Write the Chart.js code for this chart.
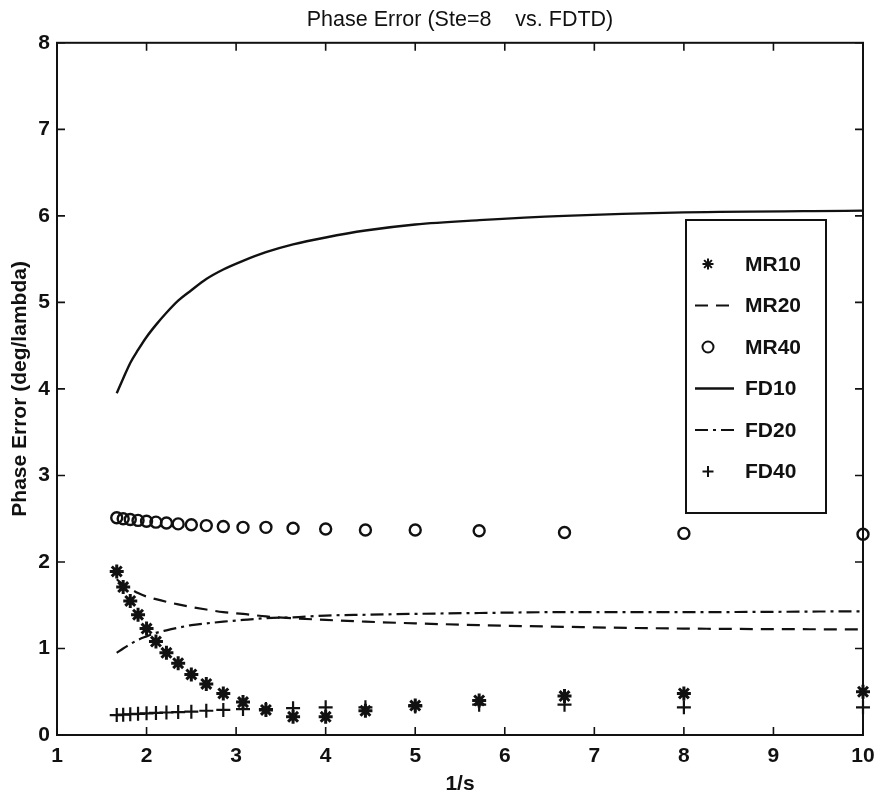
<!DOCTYPE html>
<html>
<head>
<meta charset="utf-8">
<title>Phase Error</title>
<script src="https://cdn.jsdelivr.net/npm/chart.js@4.4.1/dist/chart.umd.min.js"></script>
<style>
  html, body { margin: 0; padding: 0; background: #fff; }
  #wrap { width: 878px; height: 799px; }
</style>
</head>
<body>
<div id="wrap"><canvas id="phaseChart" width="878" height="799"></canvas></div>
<script>
// sample positions (1/s) shared by all six curves
const invS = [1.667, 1.739, 1.818, 1.905, 2.0, 2.105, 2.222, 2.353, 2.5, 2.667, 2.857,
              3.077, 3.333, 3.636, 4.0, 4.444, 5.0, 5.714, 6.667, 8.0, 10.0];

// phase error, deg/lambda
const mr10 = [1.89, 1.71, 1.55, 1.39, 1.23, 1.08, 0.95, 0.83, 0.70, 0.59, 0.48,
              0.38, 0.29, 0.21, 0.21, 0.28, 0.34, 0.40, 0.45, 0.48, 0.50];
const mr20 = [1.80, 1.74, 1.69, 1.64, 1.60, 1.57, 1.54, 1.51, 1.48, 1.45, 1.42,
              1.40, 1.37, 1.35, 1.33, 1.31, 1.29, 1.27, 1.25, 1.23, 1.22];
const mr40 = [2.51, 2.50, 2.49, 2.48, 2.47, 2.46, 2.45, 2.44, 2.43, 2.42, 2.41,
              2.40, 2.40, 2.39, 2.38, 2.37, 2.37, 2.36, 2.34, 2.33, 2.32];
const fd10 = [3.95, 4.12, 4.30, 4.45, 4.60, 4.74, 4.88, 5.02, 5.14, 5.27, 5.38,
              5.48, 5.58, 5.67, 5.75, 5.83, 5.90, 5.95, 6.00, 6.04, 6.06];
const fd20 = [0.95, 1.00, 1.05, 1.10, 1.14, 1.18, 1.21, 1.24, 1.27, 1.29, 1.31,
              1.33, 1.35, 1.36, 1.38, 1.39, 1.40, 1.41, 1.42, 1.42, 1.43];
const fd40 = [0.23, 0.235, 0.24, 0.245, 0.25, 0.255, 0.26, 0.265, 0.27, 0.28, 0.29,
              0.30, 0.30, 0.31, 0.32, 0.32, 0.33, 0.35, 0.35, 0.32, 0.32];

const seriesNames = ["MR10", "MR20", "MR40", "FD10", "FD20", "FD40"];

const ink = "#111";
const fontFamily = "'Liberation Sans', Arial, Helvetica, sans-serif";
const textSize = 21;

const pts = (ys) => invS.map((x, i) => ({ x, y: ys[i] }));

const datasets = [
  { data: pts(mr10), pointStyle: "star", pointRadius: 7, pointBorderWidth: 3, showLine: false },
  { data: pts(mr20), showLine: true, borderDash: [13, 8], borderWidth: 2.2, pointRadius: 0, cubicInterpolationMode: "monotone" },
  { data: pts(mr40), pointStyle: "circle", pointRadius: 5.5, pointBorderWidth: 2.4, showLine: false },
  { data: pts(fd10), showLine: true, borderWidth: 2.4, pointRadius: 0, cubicInterpolationMode: "monotone" },
  { data: pts(fd20), showLine: true, borderDash: [13, 5, 3, 5], borderWidth: 2.2, pointRadius: 0, cubicInterpolationMode: "monotone" },
  { data: pts(fd40), pointStyle: "cross", pointRadius: 7, pointBorderWidth: 2.2, showLine: false },
].map((ds, i) => ({
  label: seriesNames[i],
  borderColor: ink,
  pointBorderColor: ink,
  backgroundColor: "rgba(0,0,0,0)",
  pointBackgroundColor: "rgba(0,0,0,0)",
  clip: false,
  ...ds,
}));

// box round the axes with inward tick marks on all four sides
const framePlugin = {
  id: "frame",
  afterDatasetsDraw(chart) {
    const { ctx, chartArea: a, scales } = chart;
    const len = 8;
    ctx.save();
    ctx.strokeStyle = ink;
    ctx.lineWidth = 2;
    ctx.strokeRect(a.left, a.top, a.right - a.left, a.bottom - a.top);
    ctx.lineWidth = 1.6;
    ctx.beginPath();
    scales.x.ticks.forEach((t) => {
      const px = scales.x.getPixelForValue(t.value);
      ctx.moveTo(px, a.bottom); ctx.lineTo(px, a.bottom - len);
      ctx.moveTo(px, a.top); ctx.lineTo(px, a.top + len);
    });
    scales.y.ticks.forEach((t) => {
      const py = scales.y.getPixelForValue(t.value);
      ctx.moveTo(a.left, py); ctx.lineTo(a.left + len, py);
      ctx.moveTo(a.right, py); ctx.lineTo(a.right - len, py);
    });
    ctx.stroke();
    ctx.restore();
  },
};

// boxed legend inside the plot, upper right
const legendPlugin = {
  id: "boxLegend",
  afterDraw(chart) {
    const { ctx } = chart;
    const box = { left: 686, top: 220, right: 826, bottom: 513 };
    const firstRow = 264, rowGap = 41.5;
    const sampleLeft = 695, sampleRight = 734, markX = 708, textLeft = 745;
    ctx.save();
    ctx.fillStyle = "#fff";
    ctx.fillRect(box.left, box.top, box.right - box.left, box.bottom - box.top);
    ctx.strokeStyle = ink;
    ctx.lineWidth = 2;
    ctx.strokeRect(box.left, box.top, box.right - box.left, box.bottom - box.top);

    chart.data.datasets.forEach((ds, i) => {
      const y = firstRow + i * rowGap;
      ctx.strokeStyle = ink;
      if (ds.showLine) {
        ctx.lineWidth = ds.borderWidth;
        ctx.setLineDash(ds.borderDash || []);
        ctx.beginPath();
        ctx.moveTo(sampleLeft, y);
        ctx.lineTo(sampleRight, y);
        ctx.stroke();
        ctx.setLineDash([]);
      } else {
        // legend markers are a little smaller and thinner than the plotted ones
        const bw = 2;
        ctx.fillStyle = "rgba(0,0,0,0)";
        ctx.lineWidth = bw;
        Chart.helpers.drawPoint(ctx, {
          pointStyle: ds.pointStyle,
          radius: 5.5,
          borderWidth: bw,
          rotation: 0,
        }, markX, y);
      }
      ctx.fillStyle = ink;
      ctx.font = `bold ${textSize}px ${fontFamily}`;
      ctx.textBaseline = "middle";
      ctx.textAlign = "left";
      ctx.fillText(ds.label, textLeft, y + 1);
    });
    ctx.restore();
  },
};

new Chart(document.getElementById("phaseChart"), {
  type: "scatter",
  data: { datasets },
  options: {
    responsive: false,
    animation: false,
    events: [],
    devicePixelRatio: 1,
    layout: { padding: { left: 0, right: 15, top: 0, bottom: 0 } },
    plugins: {
      legend: { display: false },
      tooltip: { enabled: false },
      title: {
        display: true,
        fullSize: false,
        text: "Phase Error (Ste=8    vs. FDTD)",
        color: ink,
        font: { family: fontFamily, size: 21.5, weight: "normal" },
        padding: { top: 7, bottom: 10 },
      },
    },
    scales: {
      x: {
        type: "linear",
        min: 1,
        max: 10,
        grid: { display: false, drawTicks: false },
        border: { display: false },
        ticks: {
          stepSize: 1,
          padding: 9,
          color: ink,
          font: { family: fontFamily, size: textSize, weight: "bold" },
        },
        title: {
          display: true,
          text: "1/s",
          color: ink,
          font: { family: fontFamily, size: textSize, weight: "bold" },
          padding: { top: 0, bottom: 2 },
        },
        afterFit(scale) {
          scale.height = 64;
          scale.paddingLeft = 0;
          scale.paddingRight = 0;
        },
      },
      y: {
        type: "linear",
        min: 0,
        max: 8,
        grid: { display: false, drawTicks: false },
        border: { display: false },
        ticks: {
          stepSize: 1,
          padding: 7,
          color: ink,
          font: { family: fontFamily, size: textSize, weight: "bold" },
        },
        title: {
          display: true,
          text: "Phase Error (deg/lambda)",
          color: ink,
          font: { family: fontFamily, size: textSize, weight: "bold" },
          padding: { top: 8, bottom: 0 },
        },
        afterFit(scale) { scale.width = 57; },
      },
    },
  },
  plugins: [framePlugin, legendPlugin],
});
</script>
</body>
</html>
